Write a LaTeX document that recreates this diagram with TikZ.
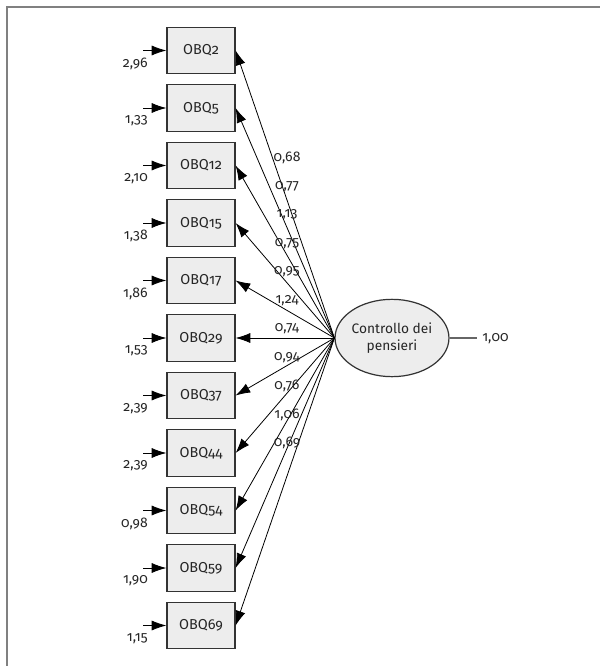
\documentclass[tikz,border=0pt]{standalone}
\usepackage{fontspec}
\setmainfont{Fira Sans}[Numbers=OldStyle]
\usetikzlibrary{arrows.meta,shapes.geometric}
\begin{document}
\begin{tikzpicture}[x=0.75pt,y=-0.75pt,
 obs/.style={draw=black!80,fill=black!7,line width=0.9pt,minimum width=51pt,minimum height=35pt,inner sep=0pt,text=black!85,font=\fontsize{10.8}{12}\selectfont},
 lat/.style={ellipse,draw=black!80,fill=black!7,line width=0.9pt,minimum width=83pt,minimum height=58pt,inner sep=0pt,align=center,text=black!85,font=\fontsize{10.3}{12.5}\selectfont},
 lbl/.style={font=\fontsize{10.5}{12}\selectfont,inner sep=0pt,text=black!85},
 load/.style={line width=0.6pt,-{Latex[length=11pt,width=7.5pt]}},
 err/.style={line width=0.6pt,-{Latex[length=11pt,width=7.5pt]}},
 frame/.style={draw=black!50,line width=1.5pt}]
\useasboundingbox (0,0) rectangle (600,666);
\draw[frame] (7,666) -- (7,7) -- (600,7);
\node[lat] (L) at (392,338) {Controllo dei\\pensieri};
\foreach \n/\e/\c [count=\i from 0] in {2/{2,96}/{0,68},5/{1,33}/{0,77},12/{2,10}/{1,13},15/{1,38}/{0,75},17/{1,86}/{0,95},29/{1,53}/{1,24},37/{2,39}/{0,74},44/{2,39}/{0,94},54/{0,98}/{0,76},59/{1,90}/{1,06},69/{1,15}/{0,69}}{
  \node[obs] (b\i) at (201,{50.5+57.5*\i}) {OBQ\n};
  \coordinate (s\i) at (143,{50.5+57.5*\i});
  \draw[err] (s\i) -- (b\i.west);
  \node[lbl,anchor=east] (e\i) at (148,{63.5+57.5*\i}) {\e};
  \draw[load] (L.west) -- (b\i.east);
  \node[lbl] (c\i) at (287,{158+28.5*\i}) {\c};
}
\coordinate (r) at (477,338);
\draw[draw=black!60,line width=0.9pt] (L.east) -- (r);
\node[lbl,anchor=west] (v) at (482,339) {1,00};
\end{tikzpicture}
\end{document}
